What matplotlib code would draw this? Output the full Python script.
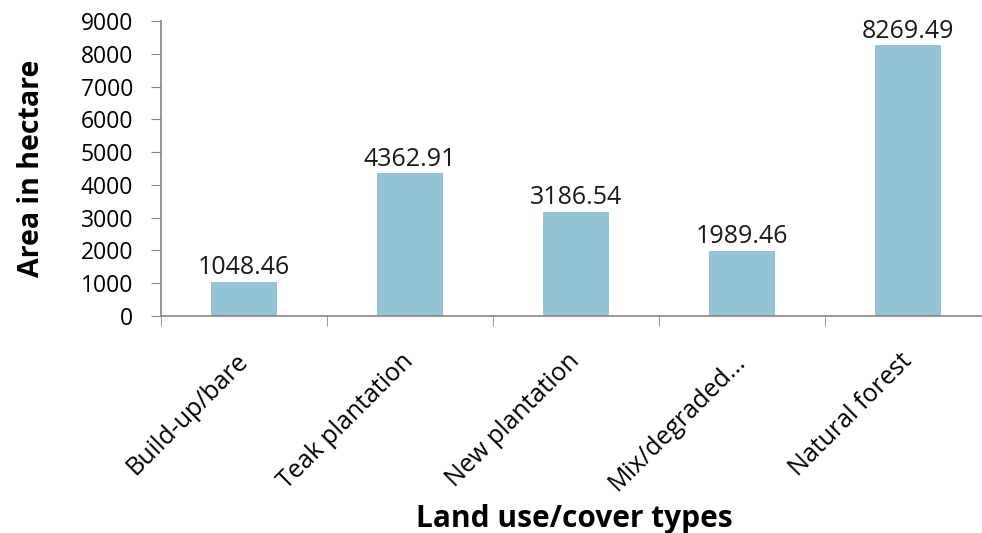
import numpy as np
import matplotlib.pyplot as plt
from matplotlib.ticker import FixedLocator

# Land use / cover data
categories = ["Build-up/bare", "Teak plantation", "New plantation",
              "Mix/degraded...", "Natural forest"]
areas = [1048.46, 4362.91, 3186.54, 1989.46, 8269.49]
yticks = [0, 1000, 2000, 3000, 4000, 5000, 6000, 7000, 8000, 9000]

plt.rcParams['font.family'] = ['Open Sans', 'DejaVu Sans']

fig = plt.figure(figsize=(9.82, 5.33), dpi=100)
ax = fig.add_axes([161 / 982, 217 / 533, 830 / 982, 295 / 533])

x = np.arange(len(categories))
ax.bar(x, areas, width=0.4, color='#93c3d5')

for xi, v in zip(x, areas):
    ax.annotate(f"{v:.2f}", (xi, v), xytext=(0, 1), textcoords='offset points',
                ha='center', va='bottom', fontsize=18, color='#1a1a1a')

ax.set_xlim(-0.5, len(categories) - 0.5)
ax.set_ylim(0, 9000)
ax.set_yticks(yticks)
ax.tick_params(axis='y', labelsize=16.5, length=7, color='#868686', pad=13)

ax.set_xticks(x)
ax.set_xticklabels(categories, rotation=45, ha='right', va='center',
                   rotation_mode='anchor', fontsize=18)
ax.tick_params(axis='x', which='major', length=0, pad=30)
ax.xaxis.set_minor_locator(FixedLocator(np.arange(len(categories) + 1) - 0.5))
ax.tick_params(axis='x', which='minor', length=7, color='#868686')

for s in ['top', 'right']:
    ax.spines[s].set_visible(False)
for s in ['left', 'bottom']:
    ax.spines[s].set_color('#868686')
    ax.spines[s].set_linewidth(1.2)

ax.set_ylabel("Area in hectare", fontsize=20.5, fontweight='bold')
ax.yaxis.set_label_coords(-0.139, 0.5)
fig.text(0.585, 0.027, "Land use/cover types", fontsize=21.5, fontweight='bold',
         ha='center', va='center')

fig.savefig("out.png", dpi=100)
